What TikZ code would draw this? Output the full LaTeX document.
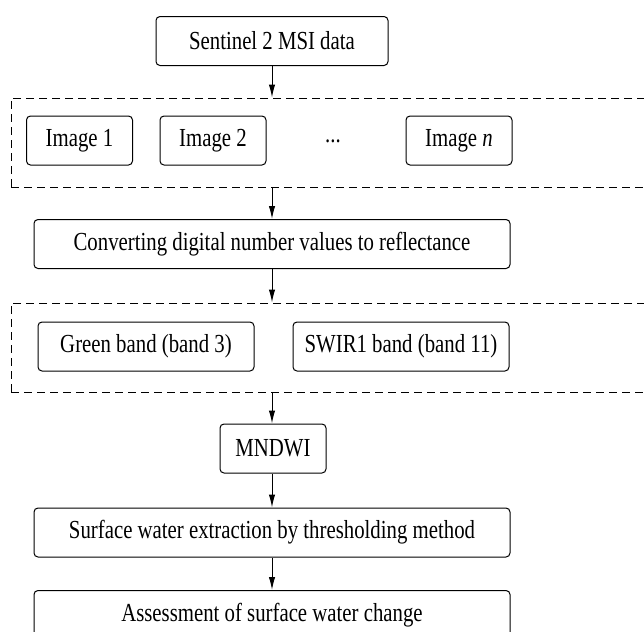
\documentclass[tikz,border=0pt]{standalone}
\usepackage{fontspec}
\setmainfont{Liberation Serif}[FakeStretch=0.8]
\usetikzlibrary{positioning, arrows.meta, shapes}

\begin{document}
\begin{tikzpicture}[
    x=0.5pt, y=-0.5pt,
    font=\fontsize{13}{15}\selectfont,
    stepbox/.style={rectangle, rounded corners=2pt, draw, line width=0.5pt, minimum height=24.5pt, inner sep=0pt, align=center},
    widebox/.style={stepbox, minimum width=238pt},
    imgbox/.style={stepbox, minimum width=53pt},
    bandbox/.style={stepbox, minimum width=108pt},
    group/.style={rectangle, draw, dash pattern=on 4pt off 2.5pt, line width=0.5pt, inner sep=0pt, minimum width=334.5pt, minimum height=44.5pt},
    flow/.style={-{Latex[length=6.5pt, width=3.2pt]}, line width=0.5pt}
]
\useasboundingbox (0,0) rectangle (644,632);
\clip (0,0) rectangle (644,632);

% Input data
\node[stepbox, minimum width=116pt] (data) at (272,41) {Sentinel 2 MSI data};

% Image collection
\node[group] (imgs) at (345.5,142.5) {};
\node[imgbox] (img1) at (79.5,140.5) {Image 1};
\node[imgbox] (img2) at (213,140.5) {Image 2};
\node (dots) at (333,141) {...};
\node[imgbox] (imgn) at (459,140.5) {Image \textit{n}};

% Pre-processing
\node[widebox] (conv) at (272,244) {Converting digital number values to reflectance};

% Bands
\node[group] (bands) at (345.5,347.5) {};
\node[bandbox] (green) at (146,346.5) {Green band (band 3)};
\node[bandbox] (swir) at (401,346.5) {SWIR1 band (band 11)};

% Index and extraction
\node[imgbox] (mndwi) at (273,448.5) {MNDWI};
\node[widebox] (extract) at (272,532.5) {Surface water extraction by thresholding method};
\node[widebox] (assess) at (272,615) {Assessment of surface water change};

% Arrows
\draw[flow] (data) -- (data |- imgs.north);
\draw[flow] (data |- imgs.south) -- (conv);
\draw[flow] (conv) -- (conv |- bands.north);
\draw[flow] (conv |- bands.south) -- (conv |- mndwi.north);
\draw[flow] (conv |- mndwi.south) -- (extract);
\draw[flow] (extract) -- (assess);

\end{tikzpicture}
\end{document}
